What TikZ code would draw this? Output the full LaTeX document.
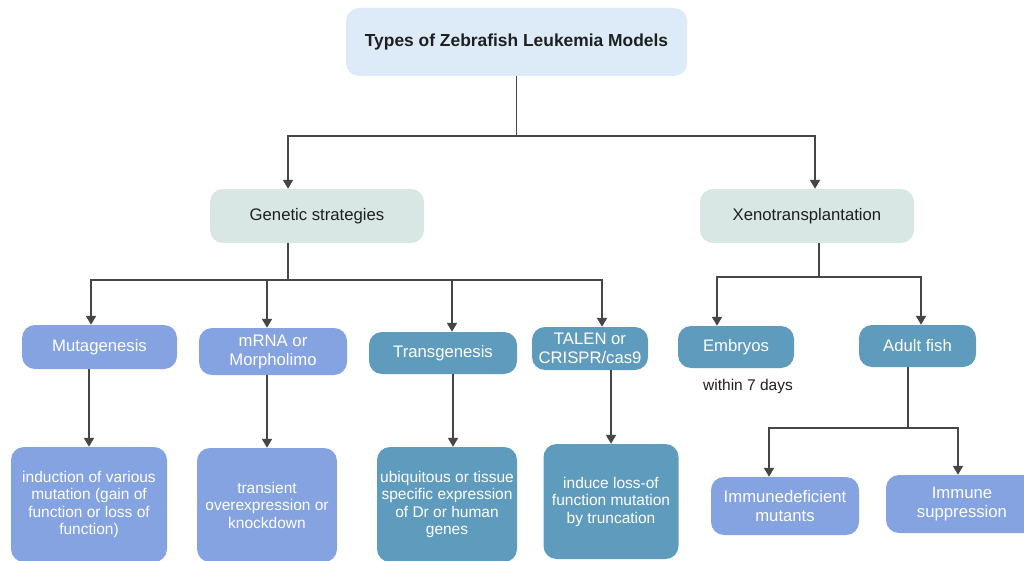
\documentclass[tikz,border=0pt]{standalone}
\usepackage{fontspec}
\setmainfont{Liberation Sans}
\usetikzlibrary{arrows.meta,positioning}
\definecolor{zfTitle}{HTML}{DDEBF8}
\definecolor{zfBranch}{HTML}{D8E7E4}
\definecolor{zfPeri}{HTML}{84A3E0}
\definecolor{zfSteel}{HTML}{5F9BBD}
\definecolor{zfLine}{HTML}{464646}
\newcommand{\zfFigMain}{\fontsize{16.7}{19}\selectfont}
\newcommand{\zfFigSub}{\fontsize{15.5}{17.5}\selectfont}
\tikzset{
  %% zfbox takes the fill colour: periwinkle for the "what is done" boxes,
  %% steel blue for the tool-based ones, as in the source figure.
  zfbox/.style={
    rounded corners=13pt, draw=none, fill=#1, inner sep=2pt,
    align=center, font=\zfFigMain, text=white},
  %% Header boxes: pale fill, dark text.
  zfhead/.style={zfbox=#1, text=black!88},
  %% Description boxes at the bottom: smaller type.
  zfnote/.style={zfbox=#1, font=\zfFigSub},
  zfflow/.style={-{Triangle[length=9pt,width=10pt]}, draw=zfLine,
    line width=1.8pt},
  zflink/.style={draw=zfLine, line width=1.8pt},
  zflbl/.style={font=\zfFigSub, inner sep=1pt, text=black!88},
}

\begin{document}
\begin{tikzpicture}[x=1pt,y=-1pt]

\useasboundingbox[fill=white] (0,0) rectangle (1024,561);

%% --- root -----------------------------------------------------------
\node[zfhead=zfTitle, minimum width=341pt, minimum height=68pt,
      font=\fontsize{17.4}{20}\selectfont\bfseries] (title) at (516.5,42)
  {Types of Zebrafish Leukemia Models};

%% --- two branches ---------------------------------------------------
\node[zfhead=zfBranch, minimum width=214pt, minimum height=54pt] (gen)
  at (317,216) {Genetic strategies};
\node[zfhead=zfBranch, minimum width=214pt, minimum height=54pt] (xeno)
  at (807,216) {Xenotransplantation};

%% --- genetic strategies row -----------------------------------------
\node[zfbox=zfPeri,  minimum width=155pt, minimum height=44pt] (mutag)
  at (99.5,347) {Mutagenesis};
\node[zfbox=zfPeri,  minimum width=148pt, minimum height=47pt] (mrna)
  at (273,351.5) {mRNA or\\Morpholimo};
\node[zfbox=zfSteel, minimum width=148pt, minimum height=42pt] (transg)
  at (443,353) {Transgenesis};
\node[zfbox=zfSteel, minimum width=116pt, minimum height=43pt] (talen)
  at (590,348.5) {TALEN or\\CRISPR/cas9};

%% --- xenotransplantation row ----------------------------------------
\node[zfbox=zfSteel, minimum width=116pt, minimum height=42pt] (embryo)
  at (736,347) {Embryos};
\node[zfbox=zfSteel, minimum width=117pt, minimum height=42pt] (adult)
  at (917.5,346) {Adult fish};
\node[zflbl, below=10pt of embryo, xshift=12pt] (within) {within 7 days};

%% --- descriptions ---------------------------------------------------
\node[zfnote=zfPeri,  minimum width=156pt, minimum height=115pt] (induct)
  at (89,504.5) {induction of various\\mutation (gain of\\function or loss of\\function)};
\node[zfnote=zfPeri,  minimum width=140pt, minimum height=114pt] (transient)
  at (267,505) {transient\\overexpression or\\knockdown};
\node[zfnote=zfSteel, minimum width=140pt, minimum height=115pt] (ubiq)
  at (447,504.5) {ubiquitous or tissue\\specific expression\\of Dr or human\\genes};
\node[zfnote=zfSteel, minimum width=135pt, minimum height=115pt] (induce)
  at (611,501.5) {induce loss-of\\function mutation\\by truncation};
\node[zfbox=zfPeri,  minimum width=148pt, minimum height=58pt] (immdef)
  at (785,506) {Immunedeficient\\mutants};
\node[zfbox=zfPeri,  minimum width=152pt, minimum height=58pt] (immsup)
  at (962,504) {Immune\\suppression};

%% --- connectors -----------------------------------------------------
\coordinate (topsplit) at (516.5,136);
\coordinate (gensplit) at (288,280);
\coordinate (xenosplit) at (819,277);
\coordinate (adultsplit) at (908,428);

\draw[zflink] (title.south) -- (topsplit);
\draw[zfflow] (topsplit) -| ([xshift=-29pt]gen.north);
\draw[zfflow] (topsplit) -| ([xshift=8pt]xeno.north);

\draw[zflink] ([xshift=-29pt]gen.south) -- (gensplit);
\draw[zfflow] (gensplit) -| ([xshift=-8.5pt]mutag.north);
\draw[zfflow] (gensplit) -| ([xshift=-6pt]mrna.north);
\draw[zfflow] (gensplit) -| ([xshift=9pt]transg.north);
\draw[zfflow] (gensplit) -| ([xshift=12pt]talen.north);

\draw[zflink] ([xshift=12pt]xeno.south) -- (xenosplit);
\draw[zfflow] (xenosplit) -| ([xshift=-19pt]embryo.north);
\draw[zfflow] (xenosplit) -| ([xshift=3.5pt]adult.north);

\draw[zfflow] (mutag.south -| induct.north) -- (induct.north);
\draw[zfflow] (mrna.south -| transient.north) -- (transient.north);
\draw[zfflow] ([xshift=10pt]transg.south) -- ([xshift=6pt]ubiq.north);
\draw[zfflow] (talen.south -| induce.north) -- (induce.north);

\draw[zflink] (adult.south -| adultsplit) -- (adultsplit);
\draw[zfflow] (adultsplit) -| ([xshift=-16pt]immdef.north);
\draw[zfflow] (adultsplit) -| ([xshift=-4pt]immsup.north);

\end{tikzpicture}
\end{document}
